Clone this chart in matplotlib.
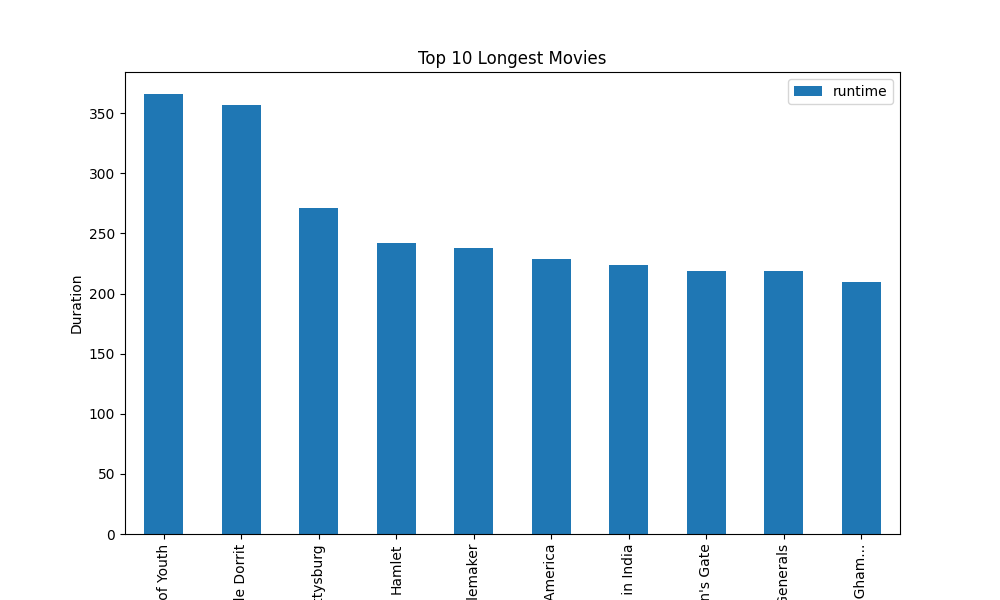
import matplotlib
matplotlib.use("Agg")
import matplotlib.pyplot as plt
import pandas as pd

# Data
titles = [
    "The Best of Youth",
    "Little Dorrit",
    "Gettysburg",
    "Hamlet",
    "The Candlemaker",
    "Once Upon a Time in America",
    "Lagaan: Once Upon a Time in India",
    "Heaven's Gate",
    "Gods and Generals",
    "Kabhi Khushi Kabhie Gham...",
]
runtime = [366, 357, 271, 242, 238, 229, 224, 219, 219, 210]

df = pd.DataFrame({"runtime": runtime}, index=titles)

fig, ax = plt.subplots(figsize=(10, 6), dpi=100)
df.plot(kind="bar", ax=ax)
ax.set_title("Top 10 Longest Movies")
ax.set_ylabel("Duration")

plt.savefig("out.png", dpi=100)
